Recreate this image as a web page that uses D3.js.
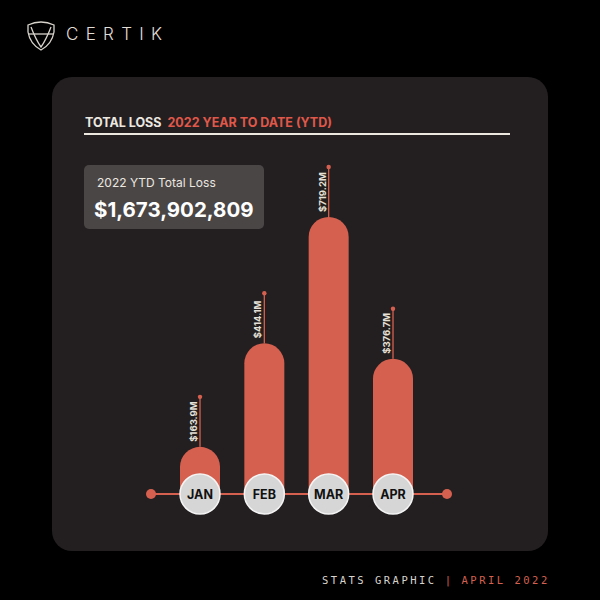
<!DOCTYPE html>
<html>
<head>
<meta charset="utf-8">
<script src="https://cdn.jsdelivr.net/npm/d3@7"></script>
<style>
  body { margin: 0; background: #000; }
  svg { display: block; }
</style>
</head>
<body>
<div id="chart"></div>
<script>
// chart data
const months = ["JAN", "FEB", "MAR", "APR"];
const losses = [163.9, 414.1, 719.2, 376.7]; // $M
const valueLabels = ["$163.9M", "$414.1M", "$719.2M", "$376.7M"];
const totalLoss = "$1,673,902,809";

const width = 600, height = 600;
const barColor = "#d6604f";

const svg = d3.select("#chart").append("svg")
  .attr("width", width)
  .attr("height", height);

svg.append("rect").attr("width", width).attr("height", height).attr("fill", "#000");

// logo
const logo = svg.append("g").attr("fill", "none").attr("stroke", "#d8d4cc").attr("stroke-width", 1.3);
logo.append("path").attr("d", "M28,25 Q41,19 54,25 L54,32 Q52,44 41,50 Q30,44 28,32 Z");
logo.append("path").attr("d", "M29,34 L53,34");
logo.append("path").attr("d", "M31,27 Q36,40 41,47 Q46,40 51,27");
svg.append("text")
  .attr("x", 66).attr("y", 40)
  .attr("fill", "#e2ded6")
  .attr("font-family", "Inter, sans-serif")
  .attr("font-weight", 300)
  .attr("font-size", 17)
  .attr("letter-spacing", 7.3)
  .text("CERTIK");

// panel
svg.append("rect")
  .attr("x", 52).attr("y", 77)
  .attr("width", 496).attr("height", 474)
  .attr("rx", 20)
  .attr("fill", "#231f20");

// title
const title = svg.append("text")
  .attr("x", 85).attr("y", 127)
  .attr("font-family", "Inter, sans-serif")
  .attr("font-weight", 700)
  .attr("font-size", 12.5);
title.append("tspan").attr("fill", "#ece8e0").text("TOTAL LOSS");
title.append("tspan").attr("fill", "#e0584a").attr("dx", 6).text("2022 YEAR TO DATE (YTD)");

svg.append("line")
  .attr("x1", 84).attr("x2", 510)
  .attr("y1", 134).attr("y2", 134)
  .attr("stroke", "#ece8e0").attr("stroke-width", 2);

// total box
svg.append("rect")
  .attr("x", 84).attr("y", 165)
  .attr("width", 180).attr("height", 64)
  .attr("rx", 5)
  .attr("fill", "#4a4646");
svg.append("text")
  .attr("x", 97).attr("y", 187)
  .attr("fill", "#ece8e0")
  .attr("font-family", "Inter, sans-serif")
  .attr("font-size", 12)
  .text("2022 YTD Total Loss");
svg.append("text")
  .attr("x", 94).attr("y", 217)
  .attr("fill", "#ffffff")
  .attr("font-family", "Inter, sans-serif")
  .attr("font-weight", 700)
  .attr("font-size", 20.5)
  .text(totalLoss);

// scales
const baseY = 494;
const x = d3.scalePoint().domain(months).range([200, 393]);
const y = d3.scaleLinear().domain([50, 719.2]).range([baseY, 217]);
const barW = 40;

const data = months.map((m, i) => ({ m, v: losses[i], label: valueLabels[i] }));

// axis line
svg.append("line")
  .attr("x1", 151).attr("x2", 447)
  .attr("y1", baseY).attr("y2", baseY)
  .attr("stroke", barColor).attr("stroke-width", 2);
svg.selectAll(".endDot")
  .data([151, 447])
  .join("circle")
  .attr("cx", d => d).attr("cy", baseY).attr("r", 5)
  .attr("fill", barColor);

// leader lines
svg.selectAll(".lead")
  .data(data)
  .join("line")
  .attr("x1", d => x(d.m)).attr("x2", d => x(d.m))
  .attr("y1", d => y(d.v)).attr("y2", d => y(d.v) - 50)
  .attr("stroke", barColor).attr("stroke-width", 1.3);
svg.selectAll(".leadDot")
  .data(data)
  .join("circle")
  .attr("cx", d => x(d.m)).attr("cy", d => y(d.v) - 50).attr("r", 2.2)
  .attr("fill", barColor);

// bars with rounded top
svg.selectAll(".bar")
  .data(data)
  .join("path")
  .attr("fill", barColor)
  .attr("d", d => {
    const cx = x(d.m), top = y(d.v), r = barW / 2;
    const l = cx - r, rr = cx + r;
    return `M${l},${baseY} L${l},${top + r} A${r},${r} 0 0 1 ${rr},${top + r} L${rr},${baseY} Z`;
  });

// value labels (rotated)
svg.selectAll(".val")
  .data(data)
  .join("text")
  .attr("transform", d => `translate(${x(d.m) - 3},${y(d.v) - 5}) rotate(-90)`)
  .attr("text-anchor", "start")
  .attr("fill", "#e6e0d6")
  .attr("font-family", "Inter, sans-serif")
  .attr("font-weight", 700)
  .attr("font-size", 9.5)
  .text(d => d.label);

// month circles
svg.selectAll(".mc")
  .data(data)
  .join("circle")
  .attr("cx", d => x(d.m)).attr("cy", baseY).attr("r", 20)
  .attr("fill", "#d6d6d6")
  .attr("stroke", "#f4f4f4").attr("stroke-width", 1.5);
svg.selectAll(".ml")
  .data(data)
  .join("text")
  .attr("x", d => x(d.m)).attr("y", baseY + 4.5)
  .attr("text-anchor", "middle")
  .attr("fill", "#111")
  .attr("font-family", "Inter, sans-serif")
  .attr("font-weight", 700)
  .attr("font-size", 12.5)
  .text(d => d.m);

// footer
const foot = svg.append("text")
  .attr("x", 322).attr("y", 584)
  .attr("font-family", "'DejaVu Sans Mono', monospace")
  .attr("font-size", 10.5)
  .attr("letter-spacing", 2.5);
foot.append("tspan").attr("fill", "#d8d4cc").text("STATS GRAPHIC");
foot.append("tspan").attr("fill", "#d6604f").attr("dx", 8).text("|");
foot.append("tspan").attr("fill", "#d6604f").attr("dx", 8).text("APRIL 2022");
</script>
</body>
</html>
